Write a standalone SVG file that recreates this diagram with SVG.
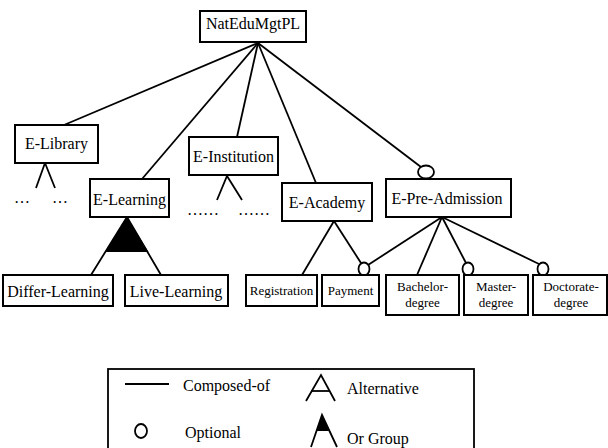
<svg xmlns="http://www.w3.org/2000/svg" width="608" height="448" viewBox="0 0 608 448">
<style>
.box{fill:#fff;stroke:#000;stroke-width:2}
.ln{stroke:#000;stroke-width:1.8;fill:none}
.opt{fill:#fff;stroke:#000;stroke-width:1.8}
text{font-family:"Liberation Serif","Times New Roman",serif;fill:#000;text-anchor:middle}
.t16{font-size:16px}
.t13{font-size:13px}
.lg{font-size:16px;text-anchor:start}
</style>
<rect width="608" height="448" fill="#fff"/>
<g id="connectors">
<line class="ln" x1="258" y1="43" x2="64" y2="125"/>
<line class="ln" x1="258" y1="43" x2="142" y2="179"/>
<line class="ln" x1="258" y1="43" x2="237" y2="137"/>
<line class="ln" x1="258" y1="43" x2="316" y2="183"/>
<line class="ln" x1="258" y1="43" x2="421" y2="167"/>
<polyline class="ln" points="36,188 45,163 55,188"/>
<polyline class="ln" points="217,200 227,176 242,200"/>
<polyline class="ln" points="91,275 127,217 161,275"/>
<polygon points="127,217 105.3,252 148.5,252" fill="#000"/>
<line class="ln" x1="334" y1="221" x2="302" y2="275"/>
<line class="ln" x1="334" y1="221" x2="361" y2="263"/>
<line class="ln" x1="442" y1="217" x2="368" y2="265"/>
<line class="ln" x1="442" y1="217" x2="417" y2="275"/>
<line class="ln" x1="442" y1="217" x2="466" y2="263"/>
<line class="ln" x1="442" y1="217" x2="539" y2="264"/>
<ellipse class="opt" cx="426" cy="172" rx="8" ry="6.5"/>
<ellipse class="opt" cx="364" cy="269" rx="5.5" ry="6.5"/>
<ellipse class="opt" cx="468" cy="269" rx="5.5" ry="6.5"/>
<ellipse class="opt" cx="543" cy="269" rx="5.5" ry="6.5"/>
</g>
<g id="NatEduMgtPL"><rect class="box" x="200" y="11" width="106" height="31"/><text class="t16" x="253" y="29">NatEduMgtPL</text></g>
<g id="E-Library"><rect class="box" x="15" y="125" width="83" height="38"/><text class="t16" x="56.5" y="149">E-Library</text>
<text class="t16" x="22" y="203">…</text><text class="t16" x="60" y="203">…</text></g>
<g id="E-Institution"><rect class="box" x="189" y="137" width="89" height="38"/><text class="t16" x="233.5" y="162">E-Institution</text>
<text class="t16" x="203" y="215">……</text><text class="t16" x="254" y="215">……</text></g>
<g id="E-Learning"><rect class="box" x="90" y="179" width="79" height="38"/><text class="t16" x="129.5" y="205">E-Learning</text></g>
<g id="E-Academy"><rect class="box" x="282" y="183" width="90" height="38"/><text class="t16" x="327" y="208">E-Academy</text></g>
<g id="E-Pre-Admission"><rect class="box" x="386" y="179" width="125" height="38"/><text class="t16" x="447" y="204">E-Pre-Admission</text></g>
<g id="Differ-Learning"><rect class="box" x="3" y="275" width="110" height="31"/><text class="t16" x="58" y="297">Differ-Learning</text></g>
<g id="Live-Learning"><rect class="box" x="125" y="275" width="103" height="31"/><text class="t16" x="176" y="297">Live-Learning</text></g>
<g id="Registration"><rect class="box" x="246" y="275" width="71" height="31"/><text class="t13" x="281.5" y="295">Registration</text></g>
<g id="Payment"><rect class="box" x="322" y="275" width="57" height="31"/><text class="t13" x="350.5" y="295">Payment</text></g>
<g id="Bachelor-degree"><rect class="box" x="386" y="275" width="73" height="40"/><text class="t13" x="422.5" y="291">Bachelor-</text><text class="t13" x="422.5" y="307">degree</text></g>
<g id="Master-degree"><rect class="box" x="464" y="275" width="64" height="40"/><text class="t13" x="496" y="291">Master-</text><text class="t13" x="496" y="307">degree</text></g>
<g id="Doctorate-degree"><rect class="box" x="533" y="275" width="74" height="40"/><text class="t13" x="571" y="291">Doctorate-</text><text class="t13" x="571" y="307">degree</text></g>
<g id="legend">
<rect x="108" y="369" width="366" height="84" fill="#fff" stroke="#000" stroke-width="1.8"/>
<line class="ln" x1="125" y1="384" x2="169" y2="384"/>
<text class="lg" x="183" y="391">Composed-of</text>
<ellipse class="opt" cx="141" cy="431" rx="6" ry="7"/>
<text class="lg" x="185" y="438">Optional</text>
<polyline class="ln" points="306,401 321,375 335,401"/>
<line class="ln" x1="311" y1="391" x2="330" y2="391"/>
<text class="lg" x="347" y="394">Alternative</text>
<polyline class="ln" points="311,447 322,415 337,447"/>
<polygon points="322,415 316.5,431 329,431" fill="#000"/>
<text class="lg" x="347" y="444">Or Group</text>
</g>
</svg>
